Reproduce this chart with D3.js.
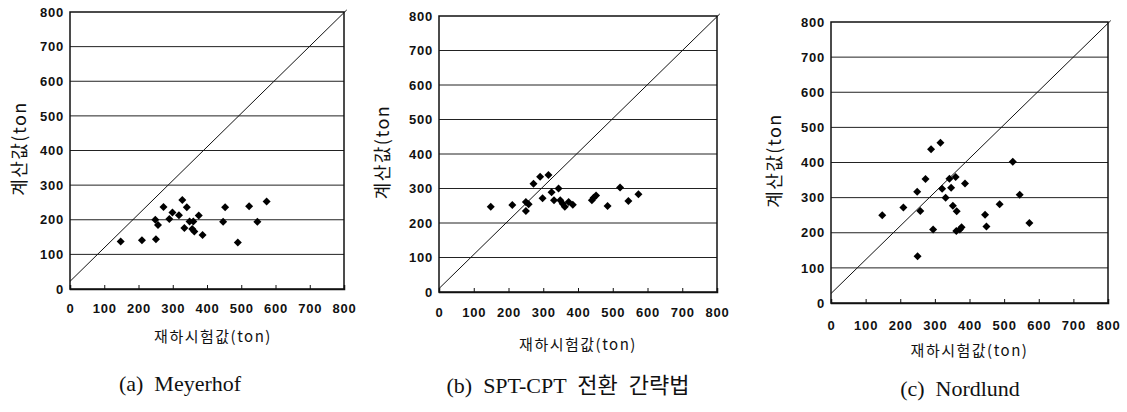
<!DOCTYPE html>
<html>
<head>
<meta charset="utf-8">
<script src="https://cdn.jsdelivr.net/npm/d3@7"></script>
<style>
  html, body { margin: 0; padding: 0; background: #fff; }
  svg { display: block; }
</style>
</head>
<body>
<svg id="chart" width="1127" height="412"></svg>
<script>
// ---------------- data ----------------
const tickValues = [0, 100, 200, 300, 400, 500, 600, 700, 800];
const gridValues = [100, 200, 300, 400, 500, 600, 700];
const xAxisTitle = "재하시험값(ton)";
const yAxisTitle = "계산값(ton";
const captions = ["(a)  Meyerhof", "(b)  SPT-CPT  전환  간략법", "(c)  Nordlund"];

const meyerhofX = [148, 210, 251, 249, 257, 273, 290, 299, 318, 328, 334, 341, 349, 360, 357, 363, 376, 387, 447, 453, 490, 523, 547, 574];
const meyerhofY = [137, 141, 144, 200, 185, 237, 202, 221, 213, 257, 176, 236, 195, 195, 173, 166, 212, 156, 194, 236, 134, 239, 194, 253];

const sptX = [149, 211, 250, 250, 258, 272, 291, 298, 315, 324, 331, 344, 349, 356, 362, 373, 385, 440, 445, 452, 485, 521, 545, 574];
const sptY = [247, 252, 261, 235, 254, 314, 334, 272, 339, 289, 266, 300, 266, 256, 247, 261, 253, 266, 273, 280, 249, 303, 264, 283];

const nordX = [148, 209, 250, 249, 258, 273, 295, 289, 316, 321, 331, 342, 347, 352, 360, 363, 362, 372, 377, 387, 445, 449, 487, 525, 545, 573];
const nordY = [250, 272, 133, 317, 262, 353, 209, 438, 456, 325, 300, 354, 328, 277, 359, 261, 205, 209, 216, 340, 251, 218, 281, 402, 308, 228];

// 1:1 reference lines (start, end) for each panel
const diagA = [[0, 22], [808, 806]];
const diagB = [[0, 10], [808, 806]];
const diagC = [[0, 27], [808, 804]];

// ---------------- layout ----------------
const panels = [
  { xs: meyerhofX, ys: meyerhofY, diag: diagA, caption: captions[0],
    left: 70, right: 344, top: 12, bottom: 289, yTitleX: 20, xTitleDx: 6, xLabelY: 313, xTitleY: 337, captionX: 180, captionY: 384 },
  { xs: sptX, ys: sptY, diag: diagB, caption: captions[1],
    left: 439, right: 717, top: 16, bottom: 292, yTitleX: 383, xTitleDx: 0, xLabelY: 317, xTitleY: 345, captionX: 568, captionY: 386 },
  { xs: nordX, ys: nordY, diag: diagC, caption: captions[2],
    left: 831, right: 1108, top: 22, bottom: 303, yTitleX: 775, xTitleDx: 0, xLabelY: 330, xTitleY: 351, captionX: 960, captionY: 389 }
];

const svg = d3.select("#chart");
const tickFont = "'Liberation Sans', Arial, sans-serif";
const korFont = "'Noto Sans CJK KR', 'Noto Sans', sans-serif";
const capFont = "'Liberation Serif', 'Noto Sans CJK KR', serif";

panels.forEach(p => {
  const x = d3.scaleLinear().domain([0, 800]).range([p.left, p.right]);
  const y = d3.scaleLinear().domain([0, 800]).range([p.bottom, p.top]);
  const g = svg.append("g");

  // gridlines
  g.selectAll("line.grid").data(gridValues).enter().append("line")
    .attr("x1", p.left).attr("x2", p.right)
    .attr("y1", d => y(d)).attr("y2", d => y(d))
    .attr("stroke", "#222").attr("stroke-width", 1);

  // frame
  g.append("rect")
    .attr("x", p.left).attr("y", p.top)
    .attr("width", p.right - p.left).attr("height", p.bottom - p.top)
    .attr("fill", "none").attr("stroke", "#111").attr("stroke-width", 1.5);

  // bottom axis: inward ticks
  const xAxis = d3.axisBottom(x).tickValues(tickValues).tickSize(-4).tickFormat("");
  const xg = g.append("g").attr("transform", `translate(0,${p.bottom})`).call(xAxis);
  xg.select(".domain").attr("stroke", "#111").attr("stroke-width", 1.5);
  xg.selectAll(".tick line").attr("stroke", "#111");

  // x tick labels
  g.selectAll("text.xl").data(tickValues).enter().append("text")
    .attr("x", d => x(d) + 0.5).attr("y", p.xLabelY)
    .attr("text-anchor", "middle")
    .attr("font-family", tickFont).attr("font-size", 13).attr("font-weight", 700)
    .attr("letter-spacing", 0.8)
    .attr("fill", "#111")
    .text(d => d);

  // left axis labels
  const yAxis = d3.axisLeft(y).tickValues(tickValues).tickSize(0).tickPadding(6);
  const yg = g.append("g").attr("transform", `translate(${p.left},0)`).call(yAxis);
  yg.select(".domain").remove();
  yg.selectAll(".tick text")
    .attr("font-family", tickFont).attr("font-size", 13).attr("font-weight", 700)
    .attr("letter-spacing", 0.8)
    .attr("fill", "#111");

  // diagonal line
  g.append("line")
    .attr("x1", x(p.diag[0][0])).attr("y1", y(p.diag[0][1]))
    .attr("x2", x(p.diag[1][0])).attr("y2", y(p.diag[1][1]))
    .attr("stroke", "#111").attr("stroke-width", 1);

  // points
  const pts = p.xs.map((v, i) => [v, p.ys[i]]);
  const sym = d3.symbol().type(d3.symbolSquare).size(32);
  g.selectAll("path.pt").data(pts).enter().append("path")
    .attr("d", sym)
    .attr("transform", d => `translate(${x(d[0])},${y(d[1])}) rotate(45)`)
    .attr("fill", "#000");

  // y title
  const cy = (p.top + p.bottom) / 2 - 2;
  g.append("text")
    .attr("transform", `translate(${p.yTitleX + 6},${cy}) rotate(-90)`)
    .attr("text-anchor", "middle")
    .attr("font-family", korFont).attr("font-size", 18)
    .attr("letter-spacing", 1.5)
    .attr("fill", "#111")
    .text(yAxisTitle);

  // x title
  g.append("text")
    .attr("x", (p.left + p.right) / 2 + p.xTitleDx).attr("y", p.xTitleY + 5)
    .attr("text-anchor", "middle")
    .attr("font-family", korFont).attr("font-size", 15)
    .attr("letter-spacing", 1.5)
    .attr("fill", "#111")
    .text(xAxisTitle);

  // caption
  g.append("text")
    .attr("x", p.captionX).attr("y", p.captionY + 7)
    .attr("text-anchor", "middle")
    .attr("font-family", capFont).attr("font-size", 22)
    .attr("fill", "#111")
    .attr("xml:space", "preserve")
    .text(p.caption);
});
</script>
</body>
</html>
